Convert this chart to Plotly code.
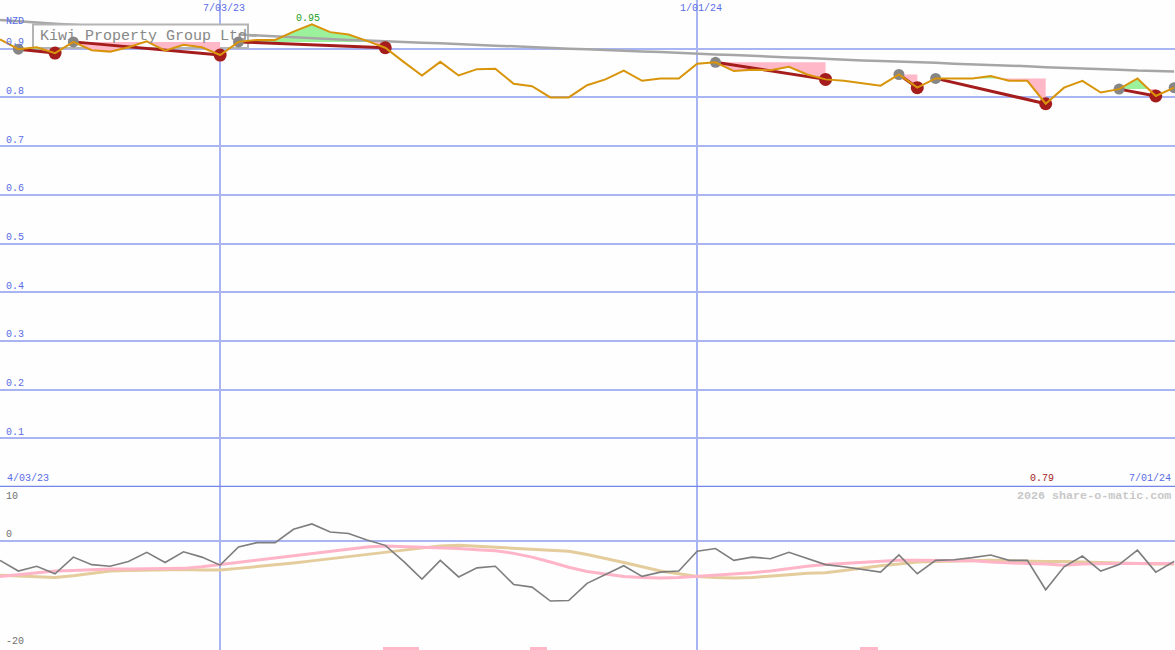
import pandas as pd
import plotly.graph_objects as go
from plotly.subplots import make_subplots

# ---------------- data ----------------
weeks = pd.date_range("2023-04-10", periods=65, freq="7D")

price = [0.919, 0.899, 0.903, 0.891, 0.914, 0.897, 0.894, 0.903, 0.915, 0.896,
         0.908, 0.903, 0.887, 0.914, 0.918, 0.918, 0.935, 0.950, 0.934, 0.929,
         0.916, 0.902, 0.873, 0.845, 0.873, 0.845, 0.858, 0.859, 0.828, 0.823,
         0.800, 0.800, 0.825, 0.837, 0.855, 0.834, 0.839, 0.839, 0.869, 0.872,
         0.854, 0.857, 0.856, 0.863, 0.847, 0.837, 0.834, 0.829, 0.824, 0.847,
         0.820, 0.839, 0.839, 0.839, 0.844, 0.834, 0.834, 0.787, 0.820, 0.834,
         0.810, 0.817, 0.839, 0.803, 0.820]

trend = [0.959, 0.956, 0.953, 0.951, 0.949, 0.946, 0.944, 0.942, 0.939, 0.937,
         0.935, 0.933, 0.931, 0.929, 0.927, 0.925, 0.923, 0.921, 0.920, 0.918,
         0.917, 0.915, 0.914, 0.912, 0.911, 0.909, 0.908, 0.906, 0.905, 0.903,
         0.902, 0.900, 0.899, 0.897, 0.896, 0.894, 0.893, 0.891, 0.890, 0.888,
         0.887, 0.885, 0.884, 0.882, 0.881, 0.879, 0.878, 0.876, 0.875, 0.874,
         0.872, 0.871, 0.869, 0.868, 0.866, 0.865, 0.864, 0.862, 0.861, 0.859,
         0.858, 0.857, 0.855, 0.854, 0.853]

osc = [-3.7, -5.7, -4.8, -6.2, -3.1, -4.5, -4.8, -3.9, -2.2, -4.1,
       -2.1, -3.1, -4.6, -1.2, -0.4, -0.4, 2.1, 3.1, 1.6, 1.3,
       0.1, -0.9, -3.9, -7.2, -3.7, -6.8, -5.1, -4.8, -8.2, -8.7,
       -11.3, -11.2, -8.0, -6.4, -4.7, -6.7, -5.9, -5.7, -2.0, -1.5,
       -3.7, -3.1, -3.4, -2.2, -3.4, -4.5, -4.9, -5.4, -5.9, -2.7,
       -6.2, -3.7, -3.6, -3.2, -2.7, -3.7, -3.7, -9.2, -4.9, -2.9,
       -5.7, -4.5, -1.8, -5.9, -3.9]

osc_fast = [-6.7, -6.4, -6.0, -5.7, -5.6, -5.4, -5.3, -5.3, -5.3, -5.2,
            -5.2, -4.9, -4.5, -4.1, -3.7, -3.2, -2.8, -2.4, -2.0, -1.6,
            -1.2, -1.0, -1.1, -1.3, -1.4, -1.5, -1.7, -1.9, -2.4, -3.1,
            -4.0, -5.0, -5.8, -6.3, -6.7, -6.9, -7.0, -6.9, -6.7, -6.5,
            -6.3, -6.0, -5.7, -5.2, -4.8, -4.5, -4.3, -4.1, -3.9, -3.7,
            -3.7, -3.7, -3.7, -3.8, -4.0, -4.2, -4.3, -4.4, -4.6, -4.4,
            -4.3, -4.3, -4.3, -4.3, -4.3]

osc_slow = [-6.5, -6.6, -6.8, -6.9, -6.6, -6.1, -5.7, -5.6, -5.5, -5.4,
            -5.4, -5.5, -5.5, -5.2, -4.9, -4.6, -4.2, -3.8, -3.4, -3.0,
            -2.6, -2.2, -1.8, -1.4, -1.0, -0.9, -1.1, -1.3, -1.4, -1.7,
            -1.8, -2.0, -2.6, -3.3, -4.1, -4.9, -5.7, -6.2, -6.7, -6.9,
            -7.0, -6.9, -6.7, -6.4, -6.1, -6.0, -5.6, -5.1, -4.7, -4.4,
            -4.0, -3.9, -3.8, -3.7, -3.7, -3.8, -3.9, -3.9, -3.9, -4.0,
            -4.1, -4.3, -4.4, -4.4, -4.4]

peak_weeks = [1, 4, 13, 39, 49, 51, 61, 64]
trough_weeks = [3, 12, 21, 45, 50, 57, 63]
swings = [(1, 3), (4, 12), (13, 21), (39, 45), (49, 50), (51, 57), (61, 63)]

vol_dates = ["2023-09-04", "2023-09-11", "2023-10-30", "2024-03-04"]
vol_heights = [0.6, 0.6, 0.6, 0.6]

grid_dates = ["2023-07-03", "2024-01-01"]
grid_labels = ["7/03/23", "1/01/24"]
start_label = "4/03/23"
end_label = "7/01/24"
price_ticks = [0.1, 0.2, 0.3, 0.4, 0.5, 0.6, 0.7, 0.8, 0.9]
osc_ticks = [10, 0, -20]
title = "Kiwi Property Group Ltd"
currency = "NZD"
credit = "2026 share-o-matic.com"

# ---------------- style ----------------
W, H = 1175, 650
TOP_H = 487
X0 = pd.Timestamp("2023-04-10 00:00")
X1 = pd.Timestamp("2024-07-01 08:00")
Y_TOP = [0, 1.0]
Y_BOT = [-20.45, 10]
BG = "#fdfefd"
GRID = "#a9b5f3"
SEP = "#7585ec"
BLUE = "#5a6ce6"
ORANGE = "#d8940a"
DKRED = "#a41c1c"
GRAYDOT = "#868686"
TRENDC = "#a6a6a6"
PINK = "#ffb8c8"
GREEN = "#9cf29c"
MONO = "Liberation Mono, DejaVu Sans Mono, monospace"

fig = make_subplots(rows=2, cols=1, shared_xaxes=True, vertical_spacing=0,
                    row_heights=[TOP_H / H, (H - TOP_H) / H])


def px_to_date(px):
    return X0 + (X1 - X0) * (px / W)


def py_to_val(py):
    return Y_TOP[1] - (Y_TOP[1] - Y_TOP[0]) * py / TOP_H


# trend line part hidden under the title box
seg_a = slice(0, 15)
fig.add_trace(go.Scatter(x=weeks[seg_a], y=trend[seg_a], mode="lines",
                         line=dict(color=TRENDC, width=2.5), hoverinfo="skip",
                         showlegend=False), row=1, col=1)

# title box (white, drawn over trend line)
bx0, bx1 = px_to_date(33), px_to_date(248)
by0, by1 = py_to_val(48), py_to_val(24.5)
fig.add_trace(go.Scatter(x=[bx0, bx1, bx1, bx0, bx0], y=[by0, by0, by1, by1, by0],
                         mode="lines", fill="toself", fillcolor=BG,
                         line=dict(color="#b4b4b4", width=2), hoverinfo="skip",
                         showlegend=False), row=1, col=1)

# swing fills (pink below / green above peak level)
for a, b in swings:
    L = price[a]
    xs, ys = [], []
    for i in range(a, b):
        xs.append(weeks[i]); ys.append(price[i])
        d0, d1 = price[i] - L, price[i + 1] - L
        if d0 * d1 < 0:
            f = d0 / (d0 - d1)
            xs.append(weeks[i] + (weeks[i + 1] - weeks[i]) * f); ys.append(L)
    xs.append(weeks[b]); ys.append(price[b])
    for col, fn in ((PINK, min), (GREEN, max)):
        yy = [fn(v, L) for v in ys]
        fig.add_trace(go.Scatter(x=xs + [weeks[b], weeks[a]], y=yy + [L, L],
                                 mode="lines", fill="toself", fillcolor=col,
                                 line=dict(width=0, color=col), hoverinfo="skip",
                                 showlegend=False), row=1, col=1)

# remaining trend line
seg_b = slice(13, 65)
fig.add_trace(go.Scatter(x=weeks[seg_b], y=trend[seg_b], mode="lines",
                         line=dict(color=TRENDC, width=2.5), hoverinfo="skip",
                         showlegend=False), row=1, col=1)

# swing lines
sx, sy = [], []
for a, b in swings:
    sx += [weeks[a], weeks[b], None]
    sy += [price[a], price[b], None]
fig.add_trace(go.Scatter(x=sx, y=sy, mode="lines", line=dict(color=DKRED, width=3),
                         hoverinfo="skip", showlegend=False), row=1, col=1)

# dots
fig.add_trace(go.Scatter(x=[weeks[i] for i in peak_weeks], y=[price[i] for i in peak_weeks],
                         mode="markers", marker=dict(color=GRAYDOT, size=11),
                         hoverinfo="skip", showlegend=False), row=1, col=1)
fig.add_trace(go.Scatter(x=[weeks[i] for i in trough_weeks], y=[price[i] for i in trough_weeks],
                         mode="markers", marker=dict(color=DKRED, size=13),
                         hoverinfo="skip", showlegend=False), row=1, col=1)

# price line
fig.add_trace(go.Scatter(x=weeks, y=price, mode="lines", line=dict(color=ORANGE, width=2),
                         showlegend=False), row=1, col=1)

# ---------------- bottom panel ----------------
fig.add_trace(go.Bar(x=pd.to_datetime(vol_dates), y=vol_heights, base=Y_BOT[0],
                     xperiod=7 * 86400000, xperiodalignment="middle",
                     width=7 * 86400000 * 0.97, marker=dict(color=PINK, line=dict(width=0)),
                     hoverinfo="skip", showlegend=False), row=2, col=1)
fig.add_trace(go.Scatter(x=weeks, y=osc_slow, mode="lines", line=dict(color="#e4cc9c", width=3),
                         showlegend=False), row=2, col=1)
fig.add_trace(go.Scatter(x=weeks, y=osc_fast, mode="lines", line=dict(color="#ffb4c8", width=3),
                         showlegend=False), row=2, col=1)
fig.add_trace(go.Scatter(x=weeks, y=osc, mode="lines", line=dict(color="#7e7e7e", width=1.6),
                         showlegend=False), row=2, col=1)

# ---------------- axes ----------------
xcommon = dict(range=[X0, X1], tickvals=pd.to_datetime(grid_dates), showticklabels=False,
               showgrid=True, gridcolor=GRID, gridwidth=1.5, zeroline=False,
               showline=False, ticks="")
fig.update_xaxes(**xcommon, row=1, col=1)
fig.update_xaxes(**xcommon, row=2, col=1)
fig.update_yaxes(range=Y_TOP, tickvals=price_ticks + [1.0], showticklabels=False,
                 showgrid=True, gridcolor=GRID, gridwidth=2, zeroline=False, ticks="",
                 row=1, col=1)
fig.update_yaxes(range=Y_BOT, tickvals=[0], showticklabels=False, showgrid=True,
                 gridcolor=GRID, gridwidth=2, zeroline=False, ticks="", row=2, col=1)

# separator between panels
fig.add_shape(type="line", xref="paper", x0=0, x1=1, yref="y", y0=Y_TOP[0], y1=Y_TOP[0],
              line=dict(color=SEP, width=2.5), layer="above")

ann = []
small = dict(family=MONO, size=10, color=BLUE)
for t in price_ticks:
    ann.append(dict(text=f"{t:.1f}", x=0, xref="paper", xanchor="left", xshift=4,
                    y=t, yref="y", yanchor="middle", yshift=6, showarrow=False, font=small))
ann.append(dict(text=currency, x=0, xref="paper", xanchor="left", xshift=4,
                y=1 - 21.5 / H, yref="paper", yanchor="middle", showarrow=False, font=small))
for t in osc_ticks:
    ann.append(dict(text=str(t), x=0, xref="paper", xanchor="left", xshift=4,
                    y=t, yref="y2", yanchor="middle", yshift=(-9 if t == osc_ticks[0] else 6),
                    showarrow=False, font=dict(family=MONO, size=10, color="#707070")))
for d, lab in zip(grid_dates, grid_labels):
    ann.append(dict(text=lab, x=pd.Timestamp(d), xref="x", xanchor="center", xshift=4,
                    y=1 - 9 / H, yref="paper", yanchor="middle", showarrow=False, font=small))
ann.append(dict(text=start_label, x=0, xref="paper", xanchor="left", xshift=5,
                y=Y_TOP[0], yref="y", yanchor="middle", yshift=9, showarrow=False, font=small))
ann.append(dict(text=end_label, x=1, xref="paper", xanchor="right", xshift=-2,
                y=Y_TOP[0], yref="y", yanchor="middle", yshift=9, showarrow=False, font=small))
imax = max(range(len(price)), key=lambda i: price[i])
imin = min(range(len(price)), key=lambda i: price[i])
ann.append(dict(text=f"{price[imax]:.2f}", x=weeks[imax], xref="x", xanchor="center", xshift=-4,
                y=price[imax], yref="y", yanchor="middle", yshift=6, showarrow=False,
                font=dict(family=MONO, size=10, color="#1ea01e")))
ann.append(dict(text=f"{round(price[imin] + 0.0001, 2):.2f}", x=weeks[imin], xref="x",
                xanchor="center", xshift=-4, y=Y_TOP[0], yref="y", yanchor="middle", yshift=9,
                showarrow=False, font=dict(family=MONO, size=10, color=DKRED)))
ann.append(dict(text=title, x=px_to_date(38), xref="x", xanchor="left",
                y=(by0 + by1) / 2, yref="y", yanchor="middle", showarrow=False,
                font=dict(family=MONO, size=15, color="#888888")))
ann.append(dict(text=credit, x=1, xref="paper", xanchor="right", xshift=-2,
                y=1 - 496 / H, yref="paper", yanchor="middle", showarrow=False,
                font=dict(family=MONO, size=11.7, color="#c8c8c8", weight="bold")))

fig.update_layout(width=W, height=H, margin=dict(l=0, r=0, t=0, b=0),
                  paper_bgcolor=BG, plot_bgcolor=BG, annotations=ann,
                  showlegend=False, bargap=0, hovermode=False)

fig.write_html("out.html", config={"displayModeBar": False},
               post_script="document.body.style.margin='0';document.body.style.overflow='hidden';")
